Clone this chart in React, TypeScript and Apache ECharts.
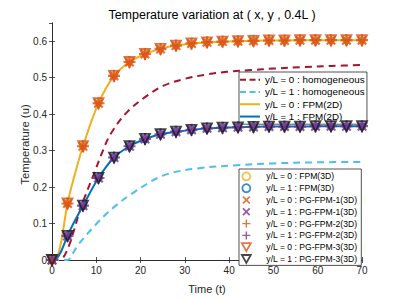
import React, { useEffect, useRef } from "react";
import * as echarts from "echarts";

// ---- data ----
const markerTimes = [0, 3.5, 7, 10.5, 14, 17.5, 21, 24.5, 28, 31.5, 35, 38.5, 42, 45.5, 49, 52.5, 56, 59.5, 63, 66.5, 70];
const markerTop = [0, 0.155, 0.312, 0.43, 0.505, 0.543, 0.565, 0.579, 0.588, 0.594, 0.597, 0.599, 0.6, 0.601, 0.602, 0.602, 0.603, 0.603, 0.603, 0.603, 0.603];
const markerBottom = [0, 0.066, 0.149, 0.225, 0.281, 0.312, 0.332, 0.345, 0.352, 0.357, 0.361, 0.363, 0.364, 0.365, 0.366, 0.366, 0.366, 0.367, 0.367, 0.367, 0.367];

const fpm2dTimes = [0, 1, 2, 3.5, 5, 7, 10.5, 14, 17.5, 21, 24.5, 28, 35, 42, 49, 56, 63, 70];
const fpm2dTop = [0, 0.005, 0.045, 0.155, 0.228, 0.312, 0.43, 0.505, 0.543, 0.565, 0.579, 0.588, 0.597, 0.6, 0.602, 0.603, 0.603, 0.603];
const fpm2dBottom = [0, 0.004, 0.022, 0.066, 0.104, 0.149, 0.225, 0.281, 0.312, 0.332, 0.345, 0.352, 0.361, 0.364, 0.366, 0.366, 0.367, 0.367];

const homogTimesTop = [0, 1.5, 2.6, 4, 6, 7.5, 9.4, 11.5, 13.2, 16.9, 21.4, 25.2, 29.7, 35, 39.5, 45, 50, 56.7, 63, 70];
const homogTop = [0, 0.001, 0.008, 0.045, 0.123, 0.176, 0.234, 0.3, 0.345, 0.405, 0.45, 0.478, 0.496, 0.509, 0.516, 0.521, 0.525, 0.529, 0.532, 0.535];
const homogTimesBottom = [0, 3.5, 4.5, 6, 9.8, 13.5, 18.4, 25.2, 32.7, 41.8, 50, 60, 70];
const homogBottom = [0, 0, 0.014, 0.043, 0.096, 0.14, 0.185, 0.232, 0.251, 0.26, 0.265, 0.268, 0.269];

const xTicks = { min: 0, max: 70, interval: 10 };
const yTicks = { min: 0, max: 0.65, interval: 0.1 };

const TITLE = "Temperature variation at ( x, y , 0.4L )";
const X_NAME = "Time (t)";
const Y_NAME = "Temperature (u)";

const lineNames = [
  "y/L = 0 : homogeneous",
  "y/L = 1 : homogeneous",
  "y/L = 0 : FPM(2D)",
  "y/L = 1 : FPM(2D)",
];
const markerNames = [
  "y/L = 0 : FPM(3D)",
  "y/L = 1 : FPM(3D)",
  "y/L = 0 : PG-FPM-1(3D)",
  "y/L = 1 : PG-FPM-1(3D)",
  "y/L = 0 : PG-FPM-2(3D)",
  "y/L = 1 : PG-FPM-2(3D)",
  "y/L = 0 : PG-FPM-3(3D)",
  "y/L = 1 : PG-FPM-3(3D)",
];

const zip = (xs: number[], ys: number[]) => xs.map((x, i) => [x, ys[i]]);

const CROSS = "path://M0,1.5 L1.5,0 L5,3.5 L8.5,0 L10,1.5 L6.5,5 L10,8.5 L8.5,10 L5,6.5 L1.5,10 L0,8.5 L3.5,5 Z";
const PLUS = "path://M4.1,0 H5.9 V4.1 H10 V5.9 H5.9 V10 H4.1 V5.9 H0 V4.1 H4.1 Z";
const TRI_DOWN = "path://M0,0 L10,0 L5,9 Z";
const ICON_DASH = "path://M0,0 H6 V2 H0 Z M9.5,0 H15.5 V2 H9.5 Z M18.5,0 H20 V2 H18.5 Z";
const ICON_SOLID = "path://M0,0 H20 V2 H0 Z";

const C_ORANGE_LINE = "#EDB120";
const C_BLUE_LINE = "#0072BD";
const C_RED = "#A2142F";
const C_LIGHTBLUE = "#4DBEEE";
const C_ORANGE = "#D95319";
const C_PURPLE = "#7E2F8E";
const C_BLACK = "#1a1a1a";
const AX = "#262626";
const FONT = "Liberation Sans, Arial, Helvetica, sans-serif";

type LineDef = { xs: number[]; ys: number[]; color: string; dashed: boolean };
const lineDefs: LineDef[] = [
  { xs: homogTimesTop, ys: homogTop, color: C_RED, dashed: true },
  { xs: homogTimesBottom, ys: homogBottom, color: C_LIGHTBLUE, dashed: true },
  { xs: fpm2dTimes, ys: fpm2dTop, color: C_ORANGE_LINE, dashed: false },
  { xs: fpm2dTimes, ys: fpm2dBottom, color: C_BLUE_LINE, dashed: false },
];

type MarkerDef = { symbol: string; size: number; hollow: boolean; color: string; data: number[] };
const markerDefs: MarkerDef[] = [
  { symbol: "circle", size: 7, hollow: true, color: C_ORANGE_LINE, data: markerTop },
  { symbol: "circle", size: 7, hollow: true, color: C_BLUE_LINE, data: markerBottom },
  { symbol: CROSS, size: 10, hollow: false, color: C_ORANGE, data: markerTop },
  { symbol: CROSS, size: 10, hollow: false, color: C_PURPLE, data: markerBottom },
  { symbol: PLUS, size: 12, hollow: false, color: C_ORANGE, data: markerTop },
  { symbol: PLUS, size: 12, hollow: false, color: C_PURPLE, data: markerBottom },
  { symbol: TRI_DOWN, size: 10, hollow: true, color: C_ORANGE, data: markerTop },
  { symbol: TRI_DOWN, size: 10, hollow: true, color: C_BLACK, data: markerBottom },
];

const itemStyleFor = (m: MarkerDef) =>
  m.hollow
    ? { color: "rgba(0,0,0,0)", borderColor: m.color, borderWidth: 1.8 }
    : { color: m.color, borderWidth: 0 };

export default function App() {
  const ref = useRef<HTMLDivElement>(null);
  useEffect(() => {
    if (!ref.current) return;
    const chart = echarts.init(ref.current, undefined, { renderer: "svg" });

    const lineSeries = lineDefs.map((s, i) => ({
      type: "line",
      name: lineNames[i],
      data: zip(s.xs, s.ys),
      smooth: 0.35,
      symbol: "none",
      showSymbol: false,
      color: s.color,
      lineStyle: { color: s.color, width: 2, type: s.dashed ? [7, 5] : "solid" },
      z: 2,
    }));

    const scatterSeries = markerDefs.map((m, i) => ({
      type: "scatter",
      name: markerNames[i],
      data: zip(markerTimes, m.data),
      symbol: m.symbol,
      symbolSize: m.size,
      itemStyle: itemStyleFor(m),
      color: m.color,
      z: 3 + i,
    }));

    const axisCommon = {
      axisLine: { show: true, lineStyle: { color: AX, width: 0.8 } },
      axisTick: { show: true, inside: true, length: 3, lineStyle: { color: AX, width: 0.8 } },
      splitLine: { show: false },
    };
    const labelStyle = { color: AX, fontSize: 10, fontFamily: FONT };

    chart.setOption({
      animation: false,
      backgroundColor: "#ffffff",
      title: {
        text: TITLE,
        left: 207,
        textAlign: "center",
        top: 3,
        textStyle: { color: "#000", fontSize: 12.5, fontWeight: "normal", fontFamily: FONT },
      },
      graphic: [
        {
          type: "text",
          x: 25,
          y: 144.5,
          rotation: Math.PI / 2,
          style: {
            text: Y_NAME,
            fill: AX,
            fontSize: 11.3,
            fontFamily: FONT,
            align: "center",
            verticalAlign: "middle",
          },
        },
      ],
      grid: { left: 52, right: 37, top: 23, bottom: 33, containLabel: false },
      xAxis: [
        {
          type: "value",
          ...xTicks,
          position: "bottom",
          ...axisCommon,
          axisLabel: { ...labelStyle, margin: 5 },
          name: X_NAME,
          nameLocation: "middle",
          nameGap: 23,
          nameTextStyle: { color: AX, fontSize: 11, fontFamily: FONT },
        },
        {
          type: "value",
          ...xTicks,
          position: "top",
          ...axisCommon,
          axisLabel: { show: false },
        },
      ],
      yAxis: [
        {
          type: "value",
          ...yTicks,
          position: "left",
          ...axisCommon,
          axisLabel: {
            ...labelStyle,
            margin: 5,
            showMaxLabel: false,
            formatter: (v: number) => (v > 0.61 ? "" : v === 0 ? "0" : String(+v.toFixed(1))),
          },
        },
        {
          type: "value",
          ...yTicks,
          position: "right",
          ...axisCommon,
          axisLabel: { show: false },
        },
      ],
      legend: [
        {
          orient: "vertical",
          left: 239,
          top: 72,
          padding: [2, 2, 2, 1],
          itemGap: 1,
          itemWidth: 20,
          itemHeight: 10,
          borderColor: AX,
          borderWidth: 0.8,
          borderRadius: 0,
          backgroundColor: "#ffffff",
          textStyle: { color: "#000", fontSize: 9.8, fontFamily: FONT, lineHeight: 11.3 },
          data: lineNames.map((n, i) => ({
            name: n,
            icon: lineDefs[i].dashed ? ICON_DASH : ICON_SOLID,
            itemStyle: { color: lineDefs[i].color, borderWidth: 0 },
            lineStyle: { width: 0 },
          })),
          selectedMode: false,
        },
        {
          orient: "vertical",
          left: 239,
          top: 169,
          padding: [2, 4, 1, 2],
          itemGap: 1,
          itemWidth: 22,
          itemHeight: 8,
          borderColor: AX,
          borderWidth: 0.8,
          borderRadius: 0,
          backgroundColor: "#ffffff",
          textStyle: { color: "#000", fontSize: 8.6, fontFamily: FONT, lineHeight: 10.8, padding: [0, 0, 0, 4] },
          data: markerNames.map((n, i) => ({
            name: n,
            icon: markerDefs[i].symbol,
            itemStyle: itemStyleFor(markerDefs[i]),
          })),
          selectedMode: false,
        },
      ],
      series: [...lineSeries, ...scatterSeries],
    });

    return () => chart.dispose();
  }, []);

  return <div ref={ref} style={{ width: 399, height: 299, position: "absolute", left: 0, top: 0 }} />;
}
